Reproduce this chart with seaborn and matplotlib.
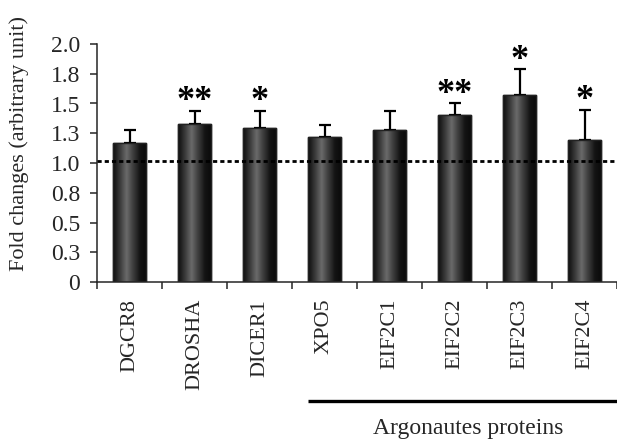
import numpy as np
import pandas as pd
import matplotlib
matplotlib.use('Agg')
import matplotlib.pyplot as plt
import seaborn as sns
from matplotlib.colors import LinearSegmentedColormap

# values
genes = ['DGCR8', 'DROSHA', 'DICER1', 'XPO5', 'EIF2C1', 'EIF2C2', 'EIF2C3', 'EIF2C4']
fold = [1.165, 1.33, 1.29, 1.216, 1.277, 1.403, 1.571, 1.19]
err = [0.112, 0.11, 0.15, 0.104, 0.16, 0.097, 0.219, 0.258]
stars = ['', '**', '*', '', '', '**', '*', '*']
yticks = [0, 0.25, 0.5, 0.75, 1.0, 1.25, 1.5, 1.75, 2.0]
ytick_labels = ['0', '0.3', '0.5', '0.8', '1.0', '1.3', '1.5', '1.8', '2.0']
baseline = 1.02
group_label = 'Argonautes proteins'

sns.set_style('ticks')
plt.rcParams['font.family'] = ['Liberation Serif', 'DejaVu Serif']

df = pd.DataFrame({'gene': genes, 'fold': fold})

fig = plt.figure(figsize=(6.17, 4.40), dpi=100)
ax = fig.add_axes([97 / 617, 1 - 282 / 440, 520 / 617, 238 / 440])

sns.barplot(data=df, x='gene', y='fold', color='#1c1c1c', width=0.52,
            edgecolor='black', linewidth=1.0, errorbar=None, ax=ax)

# shaded look of the bars
shade = LinearSegmentedColormap.from_list(
    'shade', ['#0e0e0e', '#3a3a3a', '#6a6a6a', '#3c3c3c', '#141414', '#0a0a0a'])
grad = np.linspace(0, 1, 64).reshape(1, -1)
for p in ax.patches:
    x0, w, h = p.get_x(), p.get_width(), p.get_height()
    im = ax.imshow(grad, cmap=shade, aspect='auto', extent=[x0, x0 + w, 0, h],
                   zorder=p.get_zorder() + 0.1)
    im.set_clip_path(p)
    edge = plt.Rectangle((x0, 0), w, h, fill=False, edgecolor='#222222',
                         linewidth=1.0, zorder=p.get_zorder() + 0.2)
    ax.add_patch(edge)

xs = np.arange(len(genes))
ax.errorbar(xs, fold, yerr=[np.zeros(len(err)), err], fmt='none',
            ecolor='black', elinewidth=1.6, capsize=4, capthick=1.6, zorder=1)

for x, m, e, s in zip(xs, fold, err, stars):
    if s:
        ax.text(x, m + e - 0.065, s, ha='center', va='bottom', fontsize=26,
                fontweight='bold', color='black')

ax.axhline(baseline, color='black', linewidth=2.0, linestyle=(0, (1.5, 1.1)),
           zorder=5, clip_on=False)

ax.set_xlim(-0.5, len(genes) - 0.5)
ax.set_ylim(0, 2.0)
ax.set_yticks(yticks)
ax.set_yticklabels(ytick_labels)
ax.set_xticks(xs)
ax.set_xticklabels(genes, rotation=90, va='top')
ax.set_xticks(np.arange(-0.5, len(genes)), minor=True)
ax.tick_params(axis='x', which='major', length=0, pad=12, labelsize=16)
ax.tick_params(axis='x', which='minor', length=5, width=1.1, direction='out')
ax.tick_params(axis='y', length=5, width=1.1, direction='out', pad=7, labelsize=17)
ax.set_xlabel('')
ax.set_ylabel('Fold changes (arbitrary unit)', fontsize=16)
ax.yaxis.set_label_coords(-0.13, 0.58)
sns.despine(ax=ax)
ax.spines['left'].set_linewidth(1.1)
ax.spines['bottom'].set_linewidth(1.1)

# group bracket under the Argonaute genes
tr = ax.get_xaxis_transform()
ax.plot([2.746, 7.5], [-0.499, -0.499], color='black', linewidth=2.4,
        transform=tr, clip_on=False, solid_capstyle='butt')
ax.text(5.21, -0.64, group_label, transform=tr, ha='center', va='baseline',
        fontsize=17)

fig.savefig('out.png', dpi=100)
